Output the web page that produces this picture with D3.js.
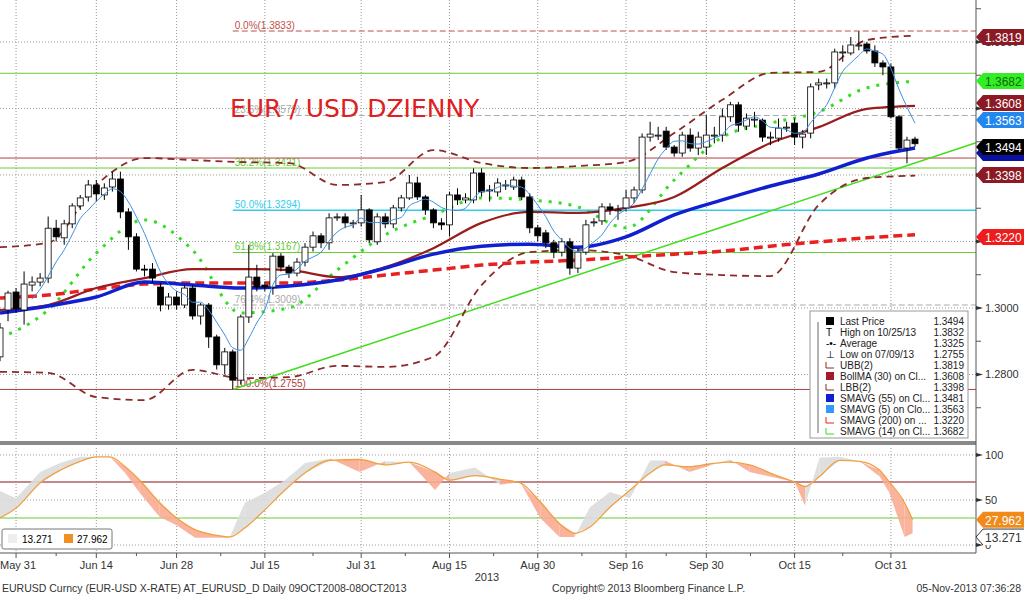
<!DOCTYPE html>
<html><head><meta charset="utf-8">
<script src="https://cdn.jsdelivr.net/npm/d3@7"></script>
<style>body{margin:0;background:#fff}svg{display:block;font-family:"Liberation Sans",Arial,sans-serif}</style>
</head><body><svg id="chart" width="1024" height="597"></svg>
<script>
// daily candles, day index 0 = May 31 2013 (trading days)
var firstDay = -2
var opens  = [1.2853,1.2994,1.3048,1.2994,1.3069,1.3078,1.3090,1.3240,1.3211,1.3253,1.3307,1.3334,1.3370,1.3340,1.3364,1.3388,1.3289,1.3214,1.3117,1.3117,1.3063,1.3009,1.3033,1.3009,1.3060,1.2976,1.3009,1.2913,1.2829,1.2868,1.2783,1.2973,1.3093,1.3069,1.3063,1.3156,1.3123,1.3105,1.3138,1.3183,1.3217,1.3196,1.3271,1.3274,1.3256,1.3256,1.3295,1.3199,1.3274,1.3253,1.3301,1.3331,1.3376,1.3334,1.3295,1.3256,1.3250,1.3340,1.3325,1.3325,1.3406,1.3355,1.3349,1.3370,1.3364,1.3385,1.3334,1.3241,1.3226,1.3196,1.3168,1.3199,1.3120,1.3168,1.3259,1.3262,1.3304,1.3295,1.3301,1.3331,1.3355,1.3514,1.3520,1.3532,1.3484,1.3466,1.3520,1.3481,1.3484,1.3520,1.3520,1.3575,1.3611,1.3547,1.3568,1.3565,1.3514,1.3511,1.3544,1.3556,1.3514,1.3526,1.3671,1.3677,1.3677,1.3770,1.3767,1.3791,1.3794,1.3773,1.3737,1.3725,1.3575,1.3481,1.3508]
var highs  = [1.2955,1.3052,1.3060,1.3110,1.3095,1.3105,1.3275,1.3265,1.3265,1.3315,1.3340,1.3385,1.3385,1.3375,1.3410,1.3410,1.3300,1.3225,1.3130,1.3135,1.3075,1.3045,1.3050,1.3070,1.3070,1.3015,1.3015,1.2920,1.2880,1.2875,1.2980,1.3190,1.3130,1.3080,1.3165,1.3165,1.3130,1.3150,1.3195,1.3230,1.3225,1.3285,1.3285,1.3285,1.3265,1.3340,1.3300,1.3285,1.3285,1.3310,1.3340,1.3400,1.3395,1.3340,1.3300,1.3270,1.3350,1.3360,1.3345,1.3420,1.3420,1.3370,1.3390,1.3385,1.3395,1.3395,1.3345,1.3250,1.3235,1.3205,1.3210,1.3210,1.3180,1.3265,1.3270,1.3315,1.3315,1.3310,1.3355,1.3365,1.3525,1.3560,1.3545,1.3545,1.3490,1.3530,1.3540,1.3530,1.3580,1.3545,1.3600,1.3620,1.3620,1.3585,1.3590,1.3570,1.3530,1.3570,1.3560,1.3570,1.3535,1.3675,1.3690,1.3690,1.3780,1.3790,1.3815,1.3832,1.3800,1.3790,1.3745,1.3735,1.3580,1.3515,1.3515]
var lows   = [1.2840,1.2960,1.2985,1.2950,1.3050,1.3065,1.3075,1.3200,1.3190,1.3240,1.3295,1.3320,1.3320,1.3325,1.3350,1.3270,1.3175,1.3110,1.3095,1.3075,1.2990,1.2995,1.2995,1.3000,1.2965,1.2950,1.2880,1.2815,1.2800,1.2755,1.2770,1.2955,1.3050,1.3050,1.3040,1.3110,1.3090,1.3095,1.3125,1.3170,1.3180,1.3175,1.3262,1.3240,1.3240,1.3245,1.3195,1.3190,1.3240,1.3240,1.3290,1.3325,1.3325,1.3280,1.3240,1.3235,1.3215,1.3310,1.3315,1.3315,1.3335,1.3320,1.3335,1.3355,1.3355,1.3325,1.3225,1.3200,1.3180,1.3150,1.3155,1.3100,1.3105,1.3160,1.3245,1.3250,1.3280,1.3265,1.3290,1.3315,1.3345,1.3500,1.3505,1.3475,1.3455,1.3455,1.3470,1.3460,1.3460,1.3495,1.3500,1.3560,1.3530,1.3535,1.3545,1.3500,1.3490,1.3500,1.3530,1.3490,1.3480,1.3510,1.3655,1.3660,1.3660,1.3740,1.3760,1.3775,1.3765,1.3725,1.3700,1.3570,1.3475,1.3435,1.3485]
var closes = [1.2940,1.3045,1.2997,1.3072,1.3078,1.3090,1.3240,1.3214,1.3253,1.3307,1.3331,1.3370,1.3343,1.3361,1.3388,1.3289,1.3214,1.3117,1.3114,1.3090,1.3009,1.3033,1.3009,1.3060,1.2976,1.3009,1.2913,1.2829,1.2868,1.2783,1.2973,1.3093,1.3063,1.3063,1.3156,1.3123,1.3105,1.3138,1.3183,1.3217,1.3196,1.3271,1.3274,1.3256,1.3256,1.3295,1.3205,1.3274,1.3253,1.3301,1.3331,1.3376,1.3334,1.3295,1.3256,1.3250,1.3340,1.3325,1.3331,1.3406,1.3349,1.3352,1.3376,1.3370,1.3385,1.3334,1.3241,1.3217,1.3196,1.3168,1.3199,1.3120,1.3168,1.3250,1.3259,1.3304,1.3295,1.3295,1.3331,1.3355,1.3514,1.3523,1.3520,1.3484,1.3466,1.3520,1.3481,1.3514,1.3520,1.3520,1.3575,1.3611,1.3550,1.3571,1.3568,1.3514,1.3514,1.3541,1.3544,1.3514,1.3523,1.3665,1.3677,1.3677,1.3770,1.3770,1.3791,1.3791,1.3773,1.3737,1.3725,1.3575,1.3481,1.3505,1.3494]

// study lines read at these days
var studyDays = [-2,4,10,16,22,28,34,40,46,52,58,64,70,76,82,88,94,100,106,112]
var sma55  = [1.2985,1.3006,1.3033,1.3078,1.3069,1.3060,1.3066,1.3084,1.3120,1.3162,1.3186,1.3192,1.3183,1.3214,1.3280,1.3325,1.3367,1.3403,1.3451,1.3481]
var bollMa = [1.2994,1.3009,1.3060,1.3090,1.3117,1.3117,1.3114,1.3093,1.3123,1.3180,1.3256,1.3289,1.3286,1.3301,1.3334,1.3421,1.3496,1.3544,1.3599,1.3608]
var ubb    = [1.3183,1.3196,1.3370,1.3451,1.3445,1.3439,1.3436,1.3370,1.3379,1.3475,1.3436,1.3421,1.3427,1.3439,1.3526,1.3626,1.3707,1.3710,1.3806,1.3819]
var lbb    = [1.2808,1.2805,1.2732,1.2723,1.2814,1.2789,1.2792,1.2826,1.2823,1.2853,1.3069,1.3168,1.3174,1.3159,1.3108,1.3099,1.3096,1.3310,1.3391,1.3398]
var sma200 = [1.3030,1.3039,1.3057,1.3072,1.3075,1.3075,1.3075,1.3084,1.3099,1.3114,1.3129,1.3138,1.3144,1.3153,1.3162,1.3171,1.3186,1.3199,1.3211,1.3220]
var sma14  = [1.2910,1.2994,1.3165,1.3265,1.3174,1.2985,1.3000,1.3114,1.3220,1.3280,1.3331,1.3325,1.3304,1.3241,1.3385,1.3514,1.3556,1.3590,1.3662,1.3682]

// stochastic panel
var stochDays = [-2,0,3,5.5,8,10,11.7,13.6,15.4,17.9,20,22.3,24.8,26.6,28.5,31,33.5,36,39.1,42.8,46,49,52.2,54,57.2,60.3,62.8,65.3,67.7,69.6,71.5,74,76.5,79,80.8,83.9,86.4,88.9,91.4,94.5,97,98.3,100.1,102.6,105.1,107.6,108.8,110.7,111.7]
var stochD = [30,41,69,83,93,98,98,87,72,47,30,17,11,9,19,39,61,80,94,95,89,92,81,72,77,73,69,48,24,13,20,42,61,80,89,87,90,92,89,78,70,65,76,94,93,83,70,47,28]
var stochK = [60,52,81,91,98,98,98,80,58,31,22,8,8,8,47,58,72,91,96,81,93,92,61,80,86,67,70,30,9,9,42,59,52,94,94,81,88,95,81,75,70,44,97,98,93,76,58,9,13]

var priceTicks = [1.28,1.30,1.32,1.34,1.36,1.38]
var priceLabels = [1.28,1.30,1.32,1.38]
var stochTicks = [0,50,100]
var dateLabels = ["May 31","Jun 14","Jun 28","Jul 15","Jul 31","Aug 15","Aug 30","Sep 16","Sep 30","Oct 15","Oct 31"]
var dateDays   = [0,10,20,31,43,54,65,76,86,97,109]

var fibLevels = [0.0,23.6,38.2,50.0,61.8,76.4,100.0]
var fibPrices = [1.3833,1.3579,1.3421,1.3294,1.3167,1.3009,1.2755]
var fibColors = ["#c0504d","#aaaaaa","#66cc33","#33ccee","#66cc33","#aaaaaa","#b04040"]

var legendNames  = ["Last Price","High on 10/25/13","Average","Low on 07/09/13","UBB(2)","BollMA (30) on Cl...","LBB(2)","SMAVG (55) on Cl...","SMAVG (5) on Clo...","SMAVG (200) on ...","SMAVG (14) on Cl..."]
var legendValues = ["1.3494","1.3832","1.3325","1.2755","1.3819","1.3608","1.3398","1.3481","1.3563","1.3220","1.3682"]

var svg = d3.select("#chart")
var x = d3.scaleLinear().domain([-2, 119.6]).range([0, 976])
var y = d3.scaleLinear().domain([1.2603, 1.39263]).range([440, 0])
var ys = d3.scaleLinear().domain([0, 100]).range([545, 455])

// grid
var grid = svg.append("g").attr("stroke", "#999").attr("stroke-dasharray", "1,2").attr("stroke-width", 1)
dateDays.forEach(function(d){
	grid.append("line").attr("x1", x(d)).attr("x2", x(d)).attr("y1", 0).attr("y2", 440)
	grid.append("line").attr("x1", x(d)).attr("x2", x(d)).attr("y1", 448).attr("y2", 553)
})
priceTicks.forEach(function(p){
	grid.append("line").attr("x1", 0).attr("x2", 976).attr("y1", y(p)).attr("y2", y(p))
})
stochTicks.forEach(function(v){
	grid.append("line").attr("x1", 0).attr("x2", 976).attr("y1", ys(v)).attr("y2", ys(v))
})

// fib and s/r lines
var x0fib = x(27)
fibPrices.forEach(function(p, k){
	var dashed = (k == 0 || k == 1 || k == 5)
	svg.append("line").attr("x1", (k==2 || k==6) ? 0 : x0fib).attr("x2", 976)
		.attr("y1", y(p)).attr("y2", y(p)).attr("stroke", fibColors[k])
		.attr("stroke-width", k==3 ? 1.5 : 1).attr("stroke-dasharray", dashed ? "6,3" : null)
	svg.append("text").attr("x", x0fib + 2).attr("y", y(p) - 2).attr("font-size", 10)
		.attr("fill", fibColors[k]).text(fibLevels[k].toFixed(1) + "%(" + p.toFixed(4) + ")")
})
svg.append("line").attr("x1", 0).attr("x2", 976).attr("y1", y(1.3706)).attr("y2", y(1.3706)).attr("stroke", "#66cc33")
svg.append("line").attr("x1", 0).attr("x2", 976).attr("y1", y(1.3451)).attr("y2", y(1.3451)).attr("stroke", "#b04040")

// trend line
svg.append("line").attr("x1", x(27)).attr("y1", y(1.2755)).attr("x2", x(119.6)).attr("y2", y(1.3497))
	.attr("stroke", "#44dd22").attr("stroke-width", 1.5)

svg.append("text").attr("x", 230).attr("y", 117).attr("font-size", 25).attr("fill", "#e02020")
	.attr("font-family", "DejaVu Sans").text("EUR / USD DZIENNY")

var line = d3.line().x(function(d){ return x(d[0]) }).y(function(d){ return y(d[1]) }).curve(d3.curveMonotoneX)
function study(vals, color, width, dash){
	svg.append("path").datum(studyDays.map(function(d, k){ return [d, vals[k]] }))
		.attr("d", line).attr("fill", "none").attr("stroke", color).attr("stroke-width", width)
		.attr("stroke-dasharray", dash)
}
study(ubb, "#8b2a2a", 1.8, "7,5")
study(lbb, "#8b2a2a", 1.8, "7,5")
study(sma200, "#e82020", 3.5, "9,5")
study(sma14, "#33dd22", 3, "3,7")
study(bollMa, "#9b1c1c", 2.2, null)
study(sma55, "#1020d0", 3.5, null)

// candles
var cw = 6
var candles = svg.append("g")
closes.forEach(function(c, k){
	var d = firstDay + k, o = opens[k], cx = x(d)
	candles.append("line").attr("x1", cx).attr("x2", cx).attr("y1", y(highs[k])).attr("y2", y(lows[k])).attr("stroke", "#000")
	var top = y(Math.max(o, c)), h = Math.max(1, Math.abs(y(o) - y(c)))
	candles.append("rect").attr("x", cx - cw/2).attr("y", top).attr("width", cw).attr("height", h)
		.attr("fill", c >= o ? "#fff" : "#000").attr("stroke", "#000").attr("stroke-width", 0.8)
})

// sma5 from closes
var sma5 = []
for (var k = 4; k < closes.length; k++){
	sma5.push([firstDay + k, d3.mean(closes.slice(k - 4, k + 1))])
}
svg.append("path").datum(sma5).attr("d", line).attr("fill", "none").attr("stroke", "#3d8fe0").attr("stroke-width", 1)

// separator and axes
svg.append("rect").attr("x", 0).attr("y", 441).attr("width", 976).attr("height", 4).attr("fill", "#888")
svg.append("line").attr("x1", 976).attr("x2", 976).attr("y1", 0).attr("y2", 553).attr("stroke", "#555")
svg.append("line").attr("x1", 0).attr("x2", 976).attr("y1", 553).attr("y2", 553).attr("stroke", "#555")

var rAxis = svg.append("g").attr("font-size", 11).attr("fill", "#333")
d3.range(1.27, 1.395, 0.01).forEach(function(p){
	rAxis.append("line").attr("x1", 976).attr("x2", 981).attr("y1", y(p)).attr("y2", y(p)).attr("stroke", "#555")
})
priceTicks.forEach(function(p){
	rAxis.append("path").attr("d", "M976," + (y(p)-2) + "L983," + y(p) + "L976," + (y(p)+2) + "Z").attr("fill", "#333")
})
priceLabels.forEach(function(p){
	rAxis.append("text").attr("x", 985).attr("y", y(p) + 4).text(p.toFixed(4))
})
stochTicks.forEach(function(v){
	rAxis.append("path").attr("d", "M976," + (ys(v)-2) + "L983," + ys(v) + "L976," + (ys(v)+2) + "Z").attr("fill", "#333")
	rAxis.append("text").attr("x", 985).attr("y", ys(v) + 4).text(v)
})

var xAxis = svg.append("g").attr("font-size", 11).attr("fill", "#333").attr("text-anchor", "middle")
dateDays.forEach(function(d, k){
	xAxis.append("line").attr("x1", x(d)).attr("x2", x(d)).attr("y1", 553).attr("y2", 558).attr("stroke", "#555")
	xAxis.append("text").attr("x", Math.max(x(d), 18)).attr("y", 569).text(dateLabels[k])
	if (k > 0){
		var m = (dateDays[k-1] + d) / 2
		xAxis.append("line").attr("x1", x(m)).attr("x2", x(m)).attr("y1", 553).attr("y2", 556).attr("stroke", "#555")
	}
})
xAxis.append("text").attr("x", 487).attr("y", 581).text("2013")

// stochastic panel
svg.append("line").attr("x1", 0).attr("x2", 976).attr("y1", ys(70)).attr("y2", ys(70)).attr("stroke", "#b06060").attr("stroke-width", 1.5)
svg.append("line").attr("x1", 0).attr("x2", 976).attr("y1", ys(30)).attr("y2", ys(30)).attr("stroke", "#66cc33")
for (var k = 1; k < stochDays.length; k++){
	var up = (stochK[k] + stochK[k-1]) >= (stochD[k] + stochD[k-1])
	var pts = [[x(stochDays[k-1]), ys(stochK[k-1])], [x(stochDays[k]), ys(stochK[k])], [x(stochDays[k]), ys(stochD[k])], [x(stochDays[k-1]), ys(stochD[k-1])]]
	svg.append("path").attr("d", "M" + pts.join("L") + "Z").attr("fill", up ? "#dcdcdc" : "#f9ab92").attr("opacity", 0.9)
}
svg.append("path").datum(stochDays.map(function(d, k){ return [x(d), ys(stochD[k])] }))
	.attr("d", d3.line().curve(d3.curveMonotoneX)).attr("fill", "none").attr("stroke", "#f0a040").attr("stroke-width", 1.3)

svg.append("rect").attr("x", 2).attr("y", 529).attr("width", 110).attr("height", 20).attr("rx", 2)
	.attr("fill", "#fff").attr("stroke", "#777")
svg.append("rect").attr("x", 8).attr("y", 534).attr("width", 9).attr("height", 9).attr("fill", "#eee")
svg.append("text").attr("x", 22).attr("y", 543).attr("font-size", 10).text("13.271")
svg.append("rect").attr("x", 64).attr("y", 534).attr("width", 9).attr("height", 9).attr("fill", "#f09020")
svg.append("text").attr("x", 77).attr("y", 543).attr("font-size", 10).text("27.962")

// legend
var lg = svg.append("g")
lg.append("rect").attr("x", 810).attr("y", 311).attr("width", 158).attr("height", 127).attr("fill", "#fff").attr("stroke", "#999")
var swatch = ["#000", null, null, null, "dash:#8b2a2a", "#a01c2c", "dash:#8b2a2a", "#1020d0", "#3399ff", "dash:#e82020", "dash:#33dd22"]
legendNames.forEach(function(n, k){
	var ly = 325 + k * 11
	var s = swatch[k]
	if (s && s.indexOf("dash:") == 0){
		lg.append("path").attr("d", "M826," + (ly-7) + "L826," + (ly-1) + "L834," + (ly-1)).attr("fill", "none").attr("stroke", s.slice(5))
	} else if (s){
		lg.append("rect").attr("x", 826).attr("y", ly - 8).attr("width", 8).attr("height", 8).attr("fill", s)
	} else {
		lg.append("text").attr("x", 826).attr("y", ly).attr("font-size", 10).text(["T","-•-","⊥"][k-1])
	}
	lg.append("text").attr("x", 840).attr("y", ly).attr("font-size", 10).attr("fill", "#222").text(n)
	lg.append("text").attr("x", 964).attr("y", ly).attr("font-size", 10).attr("fill", "#222").attr("text-anchor", "end").text(legendValues[k])
})
lg.append("line").attr("x1", 818).attr("x2", 818).attr("y1", 322).attr("y2", 433).attr("stroke", "#666")

// value tags on the right axis
var tagVals  = [1.3819, 1.3682, 1.3608, 1.3563, 1.3481, 1.3494, 1.3398, 1.3220]
var tagFill  = ["#8b1a24", "#33ee22", "#8b1a24", "#2288ee", "#0a10a0", "#000", "#8b1a24", "#ee1c1c"]
var tagText  = ["#fff", "#116611", "#fff", "#fff", "#fff", "#fff", "#fff", "#fff"]
var tagY     = [37, 81, 103, 120, 153, 147, 175, 237]
function tag(ty, fill, tc, label){
	svg.append("path").attr("d", "M976," + ty + "L983," + (ty-8) + "L1024," + (ty-8) + "L1024," + (ty+8) + "L983," + (ty+8) + "Z")
		.attr("fill", fill)
	if (label) svg.append("text").attr("x", 985).attr("y", ty + 5).attr("font-size", 12).attr("fill", tc).text(label)
}
tagVals.forEach(function(v, k){ tag(tagY[k], tagFill[k], tagText[k], k == 4 ? null : v.toFixed(4)) })
tag(ys(27.962), "#f08a1a", "#fff", "27.962")
tag(ys(13.271) + 4, "#fff", "#333", "13.271")
svg.append("path").attr("d", "M976," + (ys(13.271)+4) + "L983," + (ys(13.271)-4) + "L1024," + (ys(13.271)-4) + "M983," + (ys(13.271)+12) + "L976," + (ys(13.271)+4)).attr("fill", "none").attr("stroke", "#333")

// footer
var ft = svg.append("g").attr("font-size", 10.5).attr("fill", "#333")
ft.append("text").attr("x", 2).attr("y", 592).text("EURUSD Curncy (EUR-USD X-RATE) AT_EURUSD_D  Daily 09OCT2008-08OCT2013")
ft.append("text").attr("x", 552).attr("y", 592).text("Copyright© 2013 Bloomberg Finance L.P.")
ft.append("text").attr("x", 1021).attr("y", 592).attr("text-anchor", "end").text("05-Nov-2013 07:36:28")
</script></body></html>
